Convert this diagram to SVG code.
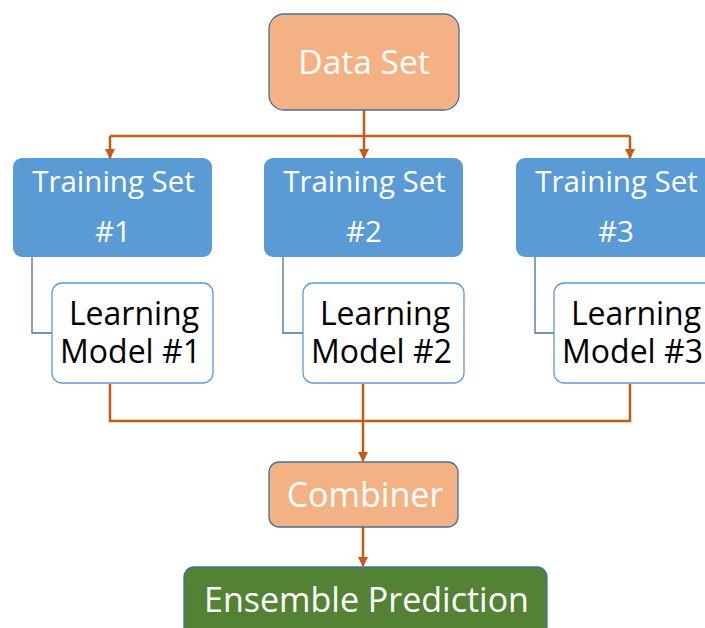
<svg xmlns="http://www.w3.org/2000/svg" width="705" height="628" viewBox="0 0 705 628">
  <defs>
    <marker id="arrow" viewBox="0 0 10 10" refX="9" refY="5" markerWidth="4" markerHeight="4" markerUnits="strokeWidth" orient="auto">
      <path d="M0,0 L10,5 L0,10 z" fill="#C55A11"/>
    </marker>
    <style>
      .flow { stroke: #C55A11; stroke-width: 2.5; fill: none; }
      .link { stroke: #41719C; stroke-width: 1.3; fill: none; }
      .orange { fill: #F4B183; stroke: #41719C; stroke-width: 1.3; }
      .train { fill: #5B9BD5; }
      .model { fill: #FFFFFF; stroke: #5B9BD5; stroke-width: 1.3; }
      .green { fill: #548235; stroke: #41719C; stroke-width: 1.3; }
      text { font-family: "Open Sans", "Noto Sans", "Liberation Sans", sans-serif; text-anchor: middle; }
      .white { fill: #FFFFFF; }
      .dark { fill: #000000; }
    </style>
  </defs>
  <rect width="705" height="628" fill="#FFFFFF"/>

  <!-- connectors -->
  <g id="connectors">
    <!-- fan-out from the data set -->
    <path class="flow" d="M364,110 V136"/>
    <path class="flow" d="M110,136 H630"/>
    <path class="flow" d="M110,136 V158" marker-end="url(#arrow)"/>
    <path class="flow" d="M364,136 V158" marker-end="url(#arrow)"/>
    <path class="flow" d="M630,136 V158" marker-end="url(#arrow)"/>
    <!-- training set to learning model -->
    <path class="link" d="M32,257 V333 H52"/>
    <path class="link" d="M283,257 V333 H303"/>
    <path class="link" d="M535,257 V333 H554"/>
    <!-- fan-in to the combiner -->
    <path class="flow" d="M110,384 V421 H630 V384"/>
    <path class="flow" d="M363,384 V461" marker-end="url(#arrow)"/>
    <path class="flow" d="M363,527 V566" marker-end="url(#arrow)"/>
  </g>

  <g id="data-set">
    <rect class="orange" x="269" y="14" width="190" height="96" rx="15"/>
    <text class="white" x="364" y="74" font-size="33.5">Data Set</text>
  </g>

  <g id="training-set-1">
    <rect class="train" x="13" y="158" width="199" height="99" rx="9"/>
    <text class="white" x="113.5" y="192" font-size="29.5">Training Set</text>
    <text class="white" x="113" y="242" font-size="29.5">#1</text>
  </g>
  <g id="training-set-2">
    <rect class="train" x="264" y="158" width="199" height="99" rx="9"/>
    <text class="white" x="364.5" y="192" font-size="29.5">Training Set</text>
    <text class="white" x="364" y="242" font-size="29.5">#2</text>
  </g>
  <g id="training-set-3">
    <rect class="train" x="516" y="158" width="199" height="99" rx="9"/>
    <text class="white" x="616.5" y="192" font-size="29.5">Training Set</text>
    <text class="white" x="616" y="242" font-size="29.5">#3</text>
  </g>

  <g id="learning-model-1">
    <rect class="model" x="52" y="283" width="161" height="100" rx="10"/>
    <text class="dark" x="134" y="325" font-size="32">Learning</text>
    <text class="dark" x="130.5" y="363" font-size="32">Model #1</text>
  </g>
  <g id="learning-model-2">
    <rect class="model" x="303" y="283" width="161" height="100" rx="10"/>
    <text class="dark" x="385" y="325" font-size="32">Learning</text>
    <text class="dark" x="381.5" y="363" font-size="32">Model #2</text>
  </g>
  <g id="learning-model-3">
    <rect class="model" x="554" y="283" width="161" height="100" rx="10"/>
    <text class="dark" x="636" y="325" font-size="32">Learning</text>
    <text class="dark" x="632.5" y="363" font-size="32">Model #3</text>
  </g>

  <g id="combiner">
    <rect class="orange" x="269" y="462" width="189" height="65" rx="10"/>
    <text class="white" x="365" y="507" font-size="34">Combiner</text>
  </g>

  <g id="ensemble-prediction">
    <rect class="green" x="184" y="567" width="363" height="80" rx="10"/>
    <text class="white" x="366.5" y="612" font-size="34">Ensemble Prediction</text>
  </g>
</svg>
